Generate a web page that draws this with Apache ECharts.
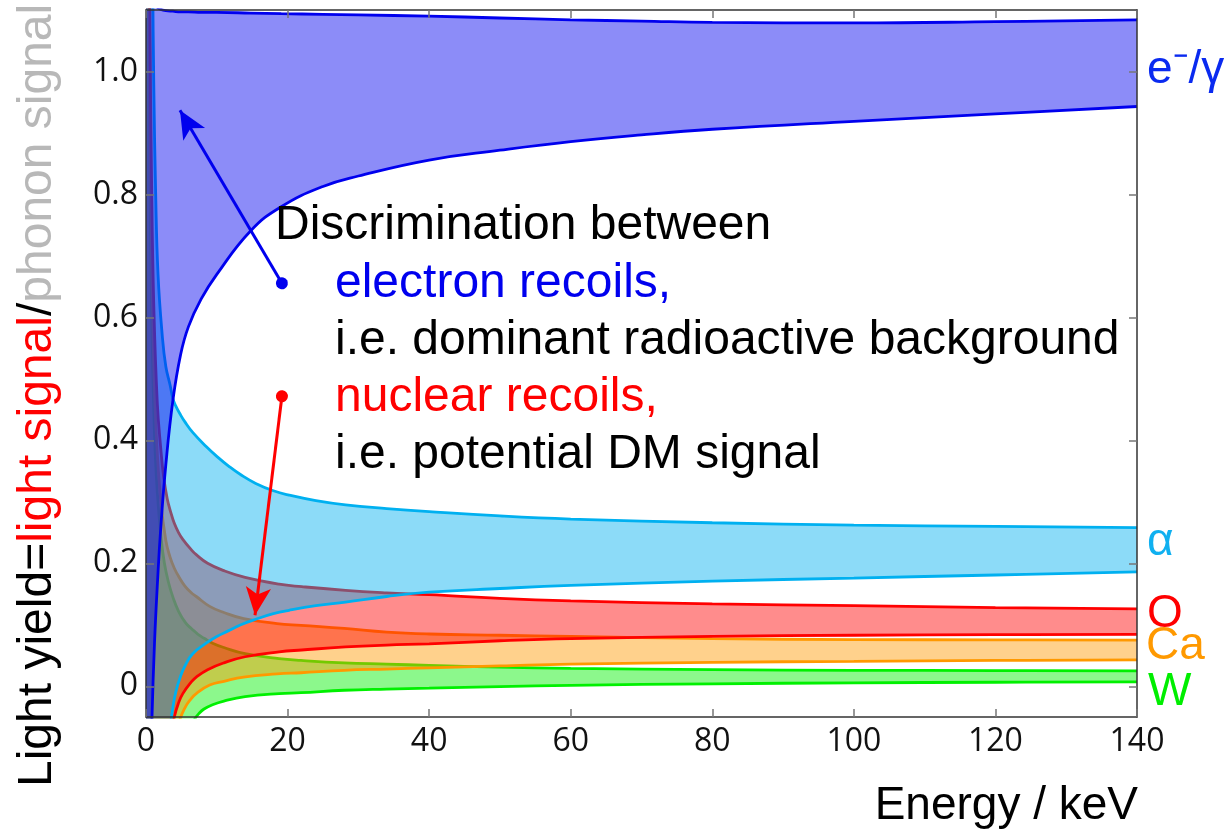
<!DOCTYPE html>
<html>
<head>
<meta charset="utf-8">
<script src="https://cdn.jsdelivr.net/npm/echarts@6/dist/echarts.min.js"></script>
<style>
  html, body { margin: 0; padding: 0; background: #ffffff; }
  #chart { width: 1224px; height: 829px; }
</style>
</head>
<body>
<div id="chart"></div>
<script>
// Light-yield bands (upper / lower edge) versus recoil energy in keV.
// Edges diverge at low energy, so the first points sit outside the visible range.

// e-/gamma band
const egEnergy = [0, 0.4, 0.6, 0.85, 1.2, 1.65, 2.1, 2.8, 3.8, 4.9, 6, 7.8, 10, 14.8, 19.1, 25, 30, 40, 50, 60, 70, 80, 100, 120, 140];
const egUpper  = [2.0, 1.5, 1.2, 1.13, 1.11, 1.104, 1.101, 1.099, 1.098, 1.097, 1.097, 1.096, 1.096, 1.095, 1.094, 1.093, 1.092, 1.090, 1.087, 1.084, 1.082, 1.080, 1.079, 1.081, 1.084];
const egLower  = [-0.8, -0.4, -0.2, -0.05, 0.07, 0.175, 0.26, 0.36, 0.465, 0.54, 0.585, 0.630, 0.670, 0.741, 0.78, 0.813, 0.83, 0.856, 0.872, 0.886, 0.897, 0.906, 0.919, 0.931, 0.943];

// alpha band
const alphaEnergy = [0, 0.5, 0.95, 1.1, 1.37, 1.7, 2.3, 2.8, 3.4, 3.8, 4.2, 4.9, 5.5, 6.6, 8.5, 10, 11.8, 13.4, 15.5, 18, 20.2, 24, 28.2, 34, 40, 50, 60, 80, 100, 120, 140];
const alphaUpper  = [2.5, 1.8, 1.15, 0.98, 0.8, 0.67, 0.57, 0.52, 0.49, 0.468, 0.456, 0.441, 0.43, 0.413, 0.39, 0.374, 0.357, 0.344, 0.33, 0.318, 0.311, 0.302, 0.295, 0.289, 0.284, 0.277, 0.272, 0.266, 0.262, 0.260, 0.258];
const alphaLower  = [-2.0, -1.5, -1.0, -0.88, -0.7, -0.5, -0.3, -0.17, -0.07, -0.035, -0.01, 0.017, 0.033, 0.053, 0.07, 0.081, 0.091, 0.1, 0.109, 0.118, 0.1235, 0.131, 0.137, 0.146, 0.153, 0.159, 0.164, 0.171, 0.176, 0.181, 0.186];

// oxygen recoil band
const oEnergy = [0, 0.3, 0.55, 0.8, 1.1, 1.6, 2.1, 2.5, 3.0, 3.5, 4.0, 4.6, 5.2, 6.4, 7.1, 8.7, 11, 14, 18.8, 22, 28.2, 34, 40, 50, 60, 80, 100, 120, 140];
const oUpper  = [2.5, 1.9, 1.12, 0.81, 0.62, 0.46, 0.385, 0.34, 0.305, 0.283, 0.265, 0.25, 0.239, 0.222, 0.214, 0.2, 0.188, 0.177, 0.166, 0.162, 0.156, 0.152, 0.149, 0.143, 0.139, 0.134, 0.131, 0.128, 0.126];
const oLower  = [-2.5, -2.2, -1.9, -1.3, -0.95, -0.6, -0.38, -0.26, -0.15, -0.085, -0.05, -0.027, -0.012, 0.007, 0.015, 0.027, 0.038, 0.048, 0.056, 0.059, 0.064, 0.067, 0.069, 0.074, 0.0775, 0.081, 0.083, 0.084, 0.0845];

// calcium recoil band
const caEnergy = [0, 0.3, 0.55, 0.8, 1.1, 1.5, 2.1, 2.8, 3.4, 4.0, 4.7, 5.5, 6.4, 7.1, 9, 11, 13.8, 18.5, 21.9, 28, 34, 40, 50, 60, 80, 100, 120, 140];
const caUpper  = [2.5, 1.7, 0.98, 0.7, 0.52, 0.4, 0.3, 0.237, 0.21, 0.192, 0.177, 0.163, 0.152, 0.146, 0.13, 0.12, 0.11, 0.102, 0.099, 0.094, 0.088, 0.085, 0.083, 0.081, 0.0775, 0.076, 0.0755, 0.075];
const caLower  = [-2.5, -2.2, -2.0, -1.7, -1.4, -1.1, -0.75, -0.35, -0.19, -0.105, -0.058, -0.035, -0.02, -0.012, 0.002, 0.008, 0.015, 0.02, 0.022, 0.026, 0.028, 0.03, 0.033, 0.036, 0.039, 0.0405, 0.042, 0.043];

// tungsten recoil band
const wEnergy = [0, 0.3, 0.55, 0.8, 1.2, 1.6, 2.1, 2.6, 3.2, 3.8, 4.6, 5.6, 6.4, 6.9, 7.5, 8.2, 9.4, 11, 14, 18.8, 21.9, 28, 34, 40, 50, 60, 80, 100, 120, 140];
const wUpper  = [2.5, 1.6, 0.88, 0.61, 0.41, 0.315, 0.245, 0.2, 0.168, 0.145, 0.122, 0.103, 0.094, 0.089, 0.083, 0.078, 0.07, 0.063, 0.053, 0.045, 0.042, 0.038, 0.036, 0.034, 0.031, 0.029, 0.027, 0.026, 0.0255, 0.025];
const wLower  = [-2.5, -2.3, -2.1, -1.9, -1.6, -1.3, -1.0, -0.6, -0.38, -0.25, -0.17, -0.1, -0.066, -0.053, -0.044, -0.037, -0.03, -0.024, -0.017, -0.012, -0.0105, -0.0065, -0.0045, -0.003, -0.0005, 0.0015, 0.004, 0.0055, 0.0065, 0.007];

// axis ticks
const xTicks = [0, 20, 40, 60, 80, 100, 120, 140];
const yTicks = [0, 0.2, 0.4, 0.6, 0.8, 1.0];
const yTickLabels = ['0', '0.2', '0.4', '0.6', '0.8', '1.0'];

// drawing order: later bands are painted over earlier ones
const bands = [
  { name: 'W',   energy: wEnergy,     upper: wUpper,     lower: wLower,     line: '#00f000', fill: 'rgba(0,240,0,0.45)' },
  { name: 'Ca',  energy: caEnergy,    upper: caUpper,    lower: caLower,    line: '#ff9900', fill: 'rgba(255,153,0,0.45)' },
  { name: 'O',   energy: oEnergy,     upper: oUpper,     lower: oLower,     line: '#ff0000', fill: 'rgba(255,0,0,0.45)' },
  { name: 'α',   energy: alphaEnergy, upper: alphaUpper, lower: alphaLower, line: '#00b0f0', fill: 'rgba(0,176,240,0.45)' },
  { name: 'e/γ', energy: egEnergy,    upper: egUpper,    lower: egLower,    line: '#0000ee', fill: 'rgba(0,0,240,0.45)' }
];

const SMOOTH = 0.45;
const LINE_W = 2.8;
// Rows are [lightYield, energy]; the light-yield column comes first so that
// it is the dimension the stack accumulates on.
const bandEncode = { x: 1, y: 0 };
const series = [];
bands.forEach((b, i) => {
  const z = 2 + i;
  // lower edge
  series.push({
    type: 'line', name: b.name + ' lower', z: z,
    stack: 'band-' + i, stackStrategy: 'all',
    encode: bandEncode,
    data: b.energy.map((e, k) => [b.lower[k], e]),
    smooth: SMOOTH, showSymbol: false, silent: true,
    lineStyle: { color: b.line, width: LINE_W }
  });
  // band width stacked on the lower edge -> filled band with upper edge line
  series.push({
    type: 'line', name: b.name, z: z,
    stack: 'band-' + i, stackStrategy: 'all',
    encode: bandEncode,
    data: b.energy.map((e, k) => [b.upper[k] - b.lower[k], e]),
    smooth: SMOOTH, showSymbol: false, silent: true,
    lineStyle: { color: b.line, width: LINE_W },
    areaStyle: { color: b.fill, opacity: 1 }
  });
});

// annotation arrows, in data coordinates
series[series.length - 1].markLine = {
  silent: true,
  animation: false,
  z: 20,
  label: { show: false },
  emphasis: { disabled: true },
  data: [
    [
      { coord: [19.2, 0.6555], symbol: 'circle', symbolSize: 12,
        lineStyle: { color: '#0000ee', width: 3, type: 'solid' }, itemStyle: { color: '#0000ee' } },
      { coord: [4.8, 0.937], symbol: 'arrow', symbolSize: [19, 28] }
    ],
    [
      { coord: [19.2, 0.4717], symbol: 'circle', symbolSize: 12,
        lineStyle: { color: '#ff0000', width: 3, type: 'solid' }, itemStyle: { color: '#ff0000' } },
      { coord: [15.4, 0.1155], symbol: 'arrow', symbolSize: [19, 28] }
    ]
  ]
};

const frameLine = { show: true, onZero: false, lineStyle: { color: '#333333', width: 1.5 } };
const tickStyle = { inside: true, length: 8, lineStyle: { color: '#777777', width: 1.5 } };
const tickFont = { fontFamily: 'Open Sans', fontSize: 32, color: '#111111' };
const ANNOT_FONT = '"Liberation Sans", Arial, sans-serif';

const option = {
  animation: false,
  backgroundColor: '#ffffff',
  grid: { left: 146, right: 87, top: 10, bottom: 112, containLabel: false },
  xAxis: [
    {
      type: 'value', min: 0, max: 140, interval: 20, position: 'bottom', z: 10,
      axisLine: frameLine, axisTick: tickStyle, splitLine: { show: false },
      axisLabel: Object.assign({ margin: 9 }, tickFont)
    },
    {
      type: 'value', min: 0, max: 140, interval: 20, position: 'top', z: 10,
      axisLine: frameLine, axisTick: tickStyle, splitLine: { show: false },
      axisLabel: { show: false }
    }
  ],
  yAxis: [
    {
      type: 'value', min: -0.05, max: 1.1, position: 'left', z: 10,
      axisLine: frameLine, splitLine: { show: false },
      axisTick: Object.assign({ customValues: yTicks }, tickStyle),
      axisLabel: Object.assign({
        margin: 8, customValues: yTicks,
        formatter: v => yTickLabels[yTicks.findIndex(t => Math.abs(t - v) < 1e-9)]
      }, tickFont)
    },
    {
      type: 'value', min: -0.05, max: 1.1, position: 'right', z: 10,
      axisLine: frameLine, splitLine: { show: false },
      axisTick: Object.assign({ customValues: yTicks }, tickStyle),
      axisLabel: { show: false }
    }
  ],
  series: series,
  graphic: [
    // y axis title
    {
      type: 'text', x: 38, y: 787, rotation: Math.PI / 2, z: 100,
      style: {
        text: '{k|Light yield=}{r|light signal}{k|/}{g|phonon signal}',
        align: 'left', verticalAlign: 'middle',
        rich: {
          k: { fill: '#000000', fontSize: 48, fontFamily: ANNOT_FONT },
          r: { fill: '#ff0000', fontSize: 48, fontFamily: ANNOT_FONT },
          g: { fill: '#b8b8b8', fontSize: 48, fontFamily: ANNOT_FONT }
        }
      }
    },
    // x axis title
    { type: 'text', x: 1138, y: 806, z: 100,
      style: { text: 'Energy / keV', fill: '#000000', font: '46px ' + ANNOT_FONT, align: 'right', verticalAlign: 'middle' } },
    // band names
    { type: 'text', x: 1147, y: 70, z: 100,
      style: { text: 'e⁻/γ', fill: '#0a2af0', font: '46px ' + ANNOT_FONT, align: 'left', verticalAlign: 'middle' } },
    { type: 'text', x: 1147, y: 542, z: 100,
      style: { text: 'α', fill: '#10b0f0', font: '46px ' + ANNOT_FONT, align: 'left', verticalAlign: 'middle' } },
    { type: 'text', x: 1147, y: 614, z: 100,
      style: { text: 'O', fill: '#ff0000', font: '46px ' + ANNOT_FONT, align: 'left', verticalAlign: 'middle' } },
    { type: 'text', x: 1146, y: 646, z: 100,
      style: { text: 'Ca', fill: '#ff9900', font: '46px ' + ANNOT_FONT, align: 'left', verticalAlign: 'middle' } },
    { type: 'text', x: 1148, y: 692, z: 100,
      style: { text: 'W', fill: '#00ee00', font: '46px ' + ANNOT_FONT, align: 'left', verticalAlign: 'middle' } },
    // explanatory text
    { type: 'text', x: 275, y: 226, z: 100,
      style: { text: 'Discrimination between', fill: '#000000', font: '48px ' + ANNOT_FONT, align: 'left', verticalAlign: 'middle' } },
    { type: 'text', x: 335, y: 284, z: 100,
      style: { text: 'electron recoils,', fill: '#0000ee', font: '48px ' + ANNOT_FONT, align: 'left', verticalAlign: 'middle' } },
    { type: 'text', x: 335, y: 341, z: 100,
      style: { text: 'i.e. dominant radioactive background', fill: '#000000', font: '48px ' + ANNOT_FONT, align: 'left', verticalAlign: 'middle' } },
    { type: 'text', x: 335, y: 398, z: 100,
      style: { text: 'nuclear recoils,', fill: '#ff0000', font: '48px ' + ANNOT_FONT, align: 'left', verticalAlign: 'middle' } },
    { type: 'text', x: 335, y: 455, z: 100,
      style: { text: 'i.e. potential DM signal', fill: '#000000', font: '48px ' + ANNOT_FONT, align: 'left', verticalAlign: 'middle' } }
  ]
};

const chart = echarts.init(document.getElementById('chart'), null, { renderer: 'canvas' });
chart.setOption(option);
</script>
</body>
</html>
